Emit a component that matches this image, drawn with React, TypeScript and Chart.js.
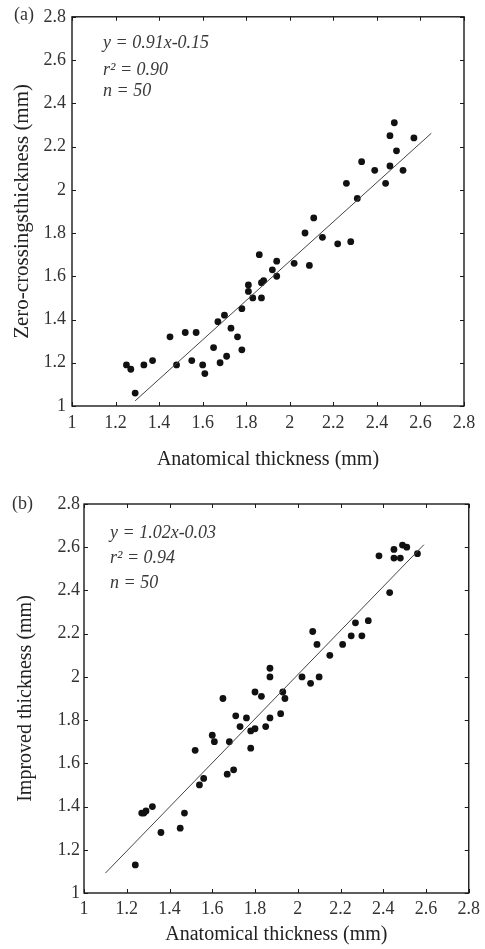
import React, { useEffect, useRef } from "react";
import { Chart, registerables } from "chart.js";

Chart.register(...registerables);

// ---------- data ----------
const tickValues = [1, 1.2, 1.4, 1.6, 1.8, 2, 2.2, 2.4, 2.6, 2.8];

const aX = [1.25, 1.27, 1.29, 1.33, 1.37, 1.45, 1.48, 1.52, 1.55, 1.57, 1.6, 1.61, 1.65, 1.67, 1.68, 1.7, 1.71, 1.73, 1.76, 1.78, 1.78, 1.81, 1.81, 1.83, 1.86, 1.87, 1.87, 1.88, 1.92, 1.94, 1.94, 2.02, 2.07, 2.09, 2.11, 2.15, 2.22, 2.28, 2.26, 2.31, 2.33, 2.39, 2.44, 2.46, 2.46, 2.48, 2.49, 2.52, 2.57];
const aY = [1.19, 1.17, 1.06, 1.19, 1.21, 1.32, 1.19, 1.34, 1.21, 1.34, 1.19, 1.15, 1.27, 1.39, 1.2, 1.42, 1.23, 1.36, 1.32, 1.45, 1.26, 1.56, 1.53, 1.5, 1.7, 1.5, 1.57, 1.58, 1.63, 1.67, 1.6, 1.66, 1.8, 1.65, 1.87, 1.78, 1.75, 1.76, 2.03, 1.96, 2.13, 2.09, 2.03, 2.25, 2.11, 2.31, 2.18, 2.09, 2.24];

const bX = [1.24, 1.27, 1.28, 1.29, 1.32, 1.36, 1.45, 1.47, 1.52, 1.54, 1.56, 1.6, 1.61, 1.65, 1.67, 1.68, 1.7, 1.71, 1.73, 1.76, 1.78, 1.78, 1.8, 1.8, 1.83, 1.85, 1.87, 1.87, 1.87, 1.92, 1.93, 1.94, 2.02, 2.06, 2.07, 2.09, 2.1, 2.15, 2.21, 2.25, 2.27, 2.3, 2.33, 2.38, 2.43, 2.45, 2.45, 2.48, 2.49, 2.51, 2.56];
const bY = [1.13, 1.37, 1.37, 1.38, 1.4, 1.28, 1.3, 1.37, 1.66, 1.5, 1.53, 1.73, 1.7, 1.9, 1.55, 1.7, 1.57, 1.82, 1.77, 1.81, 1.75, 1.67, 1.76, 1.93, 1.91, 1.77, 1.81, 2.04, 2.0, 1.83, 1.93, 1.9, 2.0, 1.97, 2.21, 2.15, 2.0, 2.1, 2.15, 2.19, 2.25, 2.19, 2.26, 2.56, 2.39, 2.59, 2.55, 2.55, 2.61, 2.6, 2.57];

const aFit = { slope: 0.91, intercept: -0.15, from: 1.29, to: 2.65 };
const bFit = { slope: 1.02, intercept: -0.03, from: 1.1, to: 2.59 };

const aText = ["y = 0.91x-0.15", "r² = 0.90", "n = 50"];
const bText = ["y = 1.02x-0.03", "r² = 0.94", "n = 50"];

const FONT = "'Liberation Serif', 'Times New Roman', serif";

type Layout = {
  height: number;
  left: number;
  right: number;
  top: number;
  bottom: number;
  yTickPad: number;
  xTickPad: number;
  xTitlePad: number;
  yTitlePad: number;
  yTitleSize: number;
  panel: { label: string; x: number; y: number };
  note: { x: number; y: number[] };
};

function ScatterPanel(props: {
  xs: number[];
  ys: number[];
  fit: { slope: number; intercept: number; from: number; to: number };
  yTitle: string;
  notes: string[];
  layout: Layout;
}) {
  const ref = useRef<HTMLCanvasElement | null>(null);
  const { xs, ys, fit, yTitle, notes, layout } = props;

  useEffect(() => {
    if (!ref.current) return;
    const W = 485;
    const L = layout;
    const points = xs.map((x, i) => ({ x, y: ys[i] }));
    const line = [fit.from, fit.to].map((x) => ({ x, y: fit.slope * x + fit.intercept }));

    const framePlugin = {
      id: "frame",
      afterDraw(chart: any) {
        const ctx = chart.ctx;
        const a = chart.chartArea;
        const xs_ = chart.scales.x;
        const ys_ = chart.scales.y;
        ctx.save();
        ctx.strokeStyle = "#1a1a1a";
        ctx.lineWidth = 1.4;
        ctx.strokeRect(a.left, a.top, a.right - a.left, a.bottom - a.top);
        ctx.lineWidth = 1;
        const t = 4;
        ctx.beginPath();
        for (const tk of xs_.ticks) {
          const px = Math.round(xs_.getPixelForValue(tk.value)) + 0.5;
          ctx.moveTo(px, a.bottom);
          ctx.lineTo(px, a.bottom - t);
          ctx.moveTo(px, a.top);
          ctx.lineTo(px, a.top + t);
        }
        for (const tk of ys_.ticks) {
          const py = Math.round(ys_.getPixelForValue(tk.value)) + 0.5;
          ctx.moveTo(a.left, py);
          ctx.lineTo(a.left + t, py);
          ctx.moveTo(a.right, py);
          ctx.lineTo(a.right - t, py);
        }
        ctx.stroke();
        // panel label
        ctx.fillStyle = "#333";
        ctx.font = `18px ${FONT}`;
        ctx.textAlign = "left";
        ctx.textBaseline = "middle";
        ctx.fillText(L.panel.label, L.panel.x, L.panel.y);
        // notes
        ctx.fillStyle = "#3a3a3a";
        ctx.font = `italic 18px ${FONT}`;
        notes.forEach((s, i) => ctx.fillText(s, L.note.x, L.note.y[i]));
        ctx.restore();
      },
    };

    const chart = new Chart(ref.current, {
      type: "scatter",
      data: {
        datasets: [
          {
            type: "line",
            data: line,
            borderColor: "#444",
            borderWidth: 1,
            pointRadius: 0,
            fill: false,
          } as any,
          {
            type: "scatter",
            data: points,
            backgroundColor: "#111",
            borderColor: "#111",
            pointRadius: 3.4,
            borderWidth: 0,
          },
        ],
      },
      options: {
        animation: false,
        responsive: false,
        events: [],
        layout: { padding: { top: L.top, right: W - L.right, left: 0, bottom: 0 } },
        plugins: { legend: { display: false }, tooltip: { enabled: false } },
        scales: {
          x: {
            type: "linear",
            min: 1,
            max: 2.8,
            grid: { display: false, drawTicks: false },
            border: { display: false },
            afterBuildTicks: (s: any) => {
              s.ticks = tickValues.map((v) => ({ value: v }));
            },
            afterFit: (s: any) => {
              s.height = L.height - L.bottom;
            },
            ticks: {
              padding: L.xTickPad,
              color: "#333",
              font: { family: FONT, size: 18 },
              maxRotation: 0,
              autoSkip: false,
              callback: (v: any) => String(Math.round(Number(v) * 10) / 10),
            },
            title: {
              display: true,
              text: "Anatomical thickness (mm)",
              color: "#222",
              font: { family: FONT, size: 20 },
              padding: { top: 0, bottom: L.xTitlePad },
            },
          },
          y: {
            type: "linear",
            min: 1,
            max: 2.8,
            grid: { display: false, drawTicks: false },
            border: { display: false },
            afterBuildTicks: (s: any) => {
              s.ticks = tickValues.map((v) => ({ value: v }));
            },
            afterFit: (s: any) => {
              s.width = L.left;
            },
            ticks: {
              padding: L.yTickPad,
              color: "#333",
              font: { family: FONT, size: 18 },
              autoSkip: false,
              callback: (v: any) => String(Math.round(Number(v) * 10) / 10),
            },
            title: {
              display: true,
              text: yTitle,
              color: "#222",
              font: { family: FONT, size: L.yTitleSize },
              padding: { top: L.yTitlePad, bottom: 0 },
            },
          },
        },
      },
      plugins: [framePlugin],
    });
    return () => chart.destroy();
  }, []);

  return <canvas ref={ref} width={485} height={layout.height} style={{ display: "block", width: 485, height: layout.height }} />;
}

const layoutA: Layout = {
  height: 475,
  left: 72,
  right: 464,
  top: 14,
  bottom: 406,
  yTickPad: 6,
  xTickPad: 6,
  xTitlePad: 3,
  yTitlePad: 10,
  yTitleSize: 21,
  panel: { label: "(a)", x: 14, y: 15 },
  note: { x: 103, y: [43, 70, 91] },
};

const layoutB: Layout = {
  height: 474,
  left: 84,
  right: 472,
  top: 29,
  bottom: 418,
  yTickPad: 4,
  xTickPad: 5,
  xTitlePad: 2,
  yTitlePad: 14,
  yTitleSize: 20,
  panel: { label: "(b)", x: 12, y: 29 },
  note: { x: 110, y: [58, 83, 108] },
};

export default function App() {
  return (
    <div style={{ position: "absolute", left: 0, top: 0, width: 485, height: 949, background: "#fff" }}>
      <ScatterPanel xs={aX} ys={aY} fit={aFit} yTitle="Zero-crossingsthickness (mm)" notes={aText} layout={layoutA} />
      <ScatterPanel xs={bX} ys={bY} fit={bFit} yTitle="Improved thickness (mm)" notes={bText} layout={layoutB} />
    </div>
  );
}
